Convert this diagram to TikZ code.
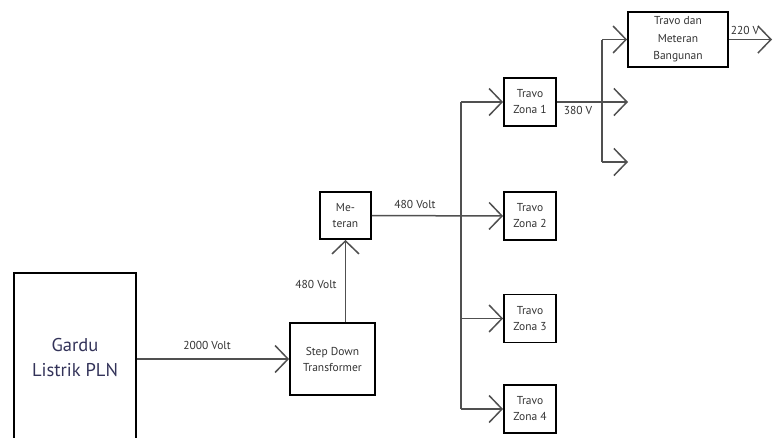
\documentclass[tikz,border=0pt]{standalone}
\usepackage{fontspec}
\setmainfont{PT Sans}
\usetikzlibrary{arrows.meta}
\definecolor{ln}{HTML}{505050}
\definecolor{tx}{HTML}{333333}
\tikzset{
  box/.style={draw=black, line width=1.8pt, inner sep=0pt, align=center, text=tx,
    font=\fontsize{11.5}{16}\selectfont},
  conn/.style={draw=ln, line width=1.5pt},
  arr/.style={conn, -{Straight Barb[length=13pt, width=27pt, line width=1.5pt]}},
  lbl/.style={text=tx, font=\fontsize{11.5}{13}\selectfont, inner sep=0pt},
}
\begin{document}
\begin{tikzpicture}[x=1pt,y=-1pt]
\useasboundingbox (0,0) rectangle (775,437);
% nodes
\node[box, minimum width=122pt, minimum height=170pt, font=\fontsize{18.5}{25}\selectfont, text=black!75!blue!60!gray] (gd) at (75,358) {Gardu\\Listrik PLN};
\node[box, minimum width=85pt, minimum height=72pt] (sd) at (332.5,359) {Step Down\\Transformer};
\node[box, minimum width=51pt, minimum height=47pt] (mt) at (345.5,215.5) {Me-\\teran};
\node[box, minimum width=52pt, minimum height=48pt] (z1) at (530,102) {Travo\\Zona 1};
\node[box, minimum width=52pt, minimum height=48pt] (z2) at (530,216) {Travo\\Zona 2};
\node[box, minimum width=52pt, minimum height=48pt] (z3) at (530,318.5) {Travo\\Zona 3};
\node[box, minimum width=52pt, minimum height=48pt] (z4) at (530,409) {Travo\\Zona 4};
\node[box, minimum width=100pt, minimum height=55pt, font=\fontsize{11.5}{17.5}\selectfont] (tm) at (678,39.5) {Travo dan\\Meteran\\Bangunan};
% coordinates
\coordinate (bt) at (461,102);
\coordinate (bb) at (461,409);
\coordinate (vt) at (602,39.5);
\coordinate (vb) at (602,162);
\coordinate (o2) at (628,102);
\coordinate (o3) at (628,162);
\coordinate (o4) at (772,39.5);
% connectors
\draw[arr] (gd.east |- sd.west) -- (sd.west);
\draw[arr] (sd.north -| mt.south) -- (mt.south);
\draw[arr] (mt.east) -- (z2.west);
\draw[conn] (bt) -- (bb);
\draw[arr] (bt) -- (z1.west);
\draw[arr] (bb |- z3.west) -- (z3.west);
\draw[arr] (bb) -- (z4.west);
\draw[arr] (z1.east) -- (o2);
\draw[conn] (vt) -- (vb);
\draw[arr] (vt) -- (tm.west);
\draw[arr] (vb) -- (o3);
\draw[arr] (tm.east) -- (o4);
% labels
\node[lbl] at (207,345) {2000 Volt};
\node[lbl] at (316,284) {480 Volt};
\node[lbl] at (415,204) {480 Volt};
\node[lbl] at (578,110) {380 V};
\node[lbl] at (745,30) {220 V};
\end{tikzpicture}
\end{document}
